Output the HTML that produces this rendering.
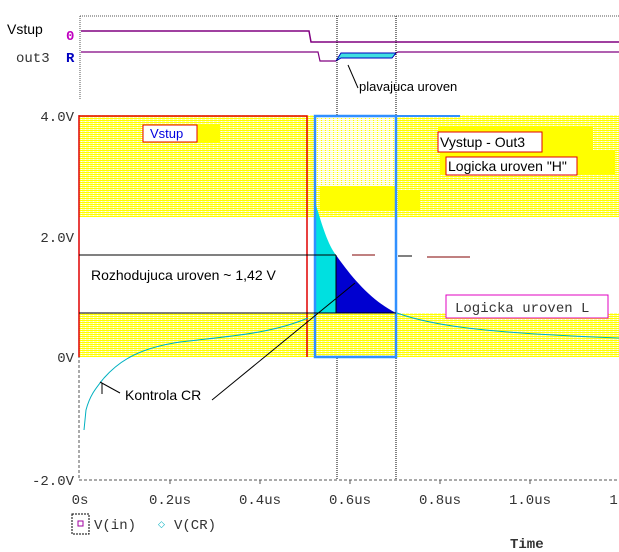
<!DOCTYPE html>
<html><head><meta charset="utf-8"><style>
html,body{margin:0;padding:0;background:#fff;}
svg{display:block;}
text{font-family:"Liberation Sans",sans-serif;}
.m, .m text, text.m{font-family:"Liberation Mono",monospace;}
</style></head><body>
<svg width="619" height="552" viewBox="0 0 619 552" xmlns="http://www.w3.org/2000/svg">
<defs>
<pattern id="hy" width="4" height="2" patternUnits="userSpaceOnUse">
<rect width="4" height="2" fill="#ffff00"/>
<rect y="1" width="4" height="1" fill="#ffffa0"/>
<rect x="1" y="1" width="1" height="1" fill="#fff"/>
</pattern>
<pattern id="hl" width="4" height="2" patternUnits="userSpaceOnUse">
<rect width="4" height="2" fill="#ffffc0"/>
<rect y="1" width="4" height="1" fill="#fff"/>
<rect x="1" y="0" width="1" height="1" fill="#ffff00"/>
</pattern>
</defs>
<!-- top digital panel -->
<line x1="80" y1="16" x2="619" y2="16" stroke="#555" stroke-dasharray="1,1"/>
<line x1="80" y1="16" x2="80" y2="100" stroke="#555" stroke-dasharray="1,1"/>
<text x="7" y="34" font-size="14">Vstup</text>
<text x="66" y="40" font-size="14" fill="#c000c0" class="m" font-weight="bold">0</text>
<text x="16" y="62" font-size="14" class="m" fill="#333">out3</text>
<text x="66" y="62" font-size="14" fill="#0000c0" class="m" font-weight="bold">R</text>
<polyline points="81,31 309,31 311,42 619,42" fill="none" stroke="#800080" stroke-width="1.5"/>
<polyline points="81,52 318,52 320,61 336,61" fill="none" stroke="#800080" stroke-width="1.2"/>
<polygon points="336,61 341,53 396,53 392,58 341,58" fill="#40e0e0" stroke="#0000c0"/>
<polyline points="396,53 398,52 619,52" fill="none" stroke="#800080" stroke-width="1.2"/>
<line x1="337" y1="16" x2="337" y2="480" stroke="#000" stroke-dasharray="1,1"/>
<line x1="396" y1="16" x2="396" y2="480" stroke="#000" stroke-dasharray="1,1"/>
<line x1="348" y1="65" x2="358" y2="88" stroke="#000"/>
<text x="359" y="91" font-size="13">plavajuca uroven</text>
<!-- main plot yellow regions -->
<rect x="79" y="115" width="540" height="102" fill="url(#hy)"/>
<rect x="79" y="313" width="540" height="44" fill="url(#hy)"/>
<rect x="315" y="116" width="81" height="70" fill="url(#hl)"/>
<rect x="315" y="217" width="81" height="140" fill="#fff"/>
<rect x="315" y="313" width="81" height="44" fill="url(#hy)"/>
<rect x="143" y="125" width="77" height="18" fill="#ffff00"/>
<rect x="438" y="126" width="155" height="24" fill="#ffff00"/>
<rect x="440" y="150" width="175" height="25" fill="#ffff00"/>
<rect x="320" y="186" width="75" height="25" fill="#ffff00"/>
<rect x="398" y="190" width="22" height="20" fill="#ffff00"/>
<!-- axis -->
<line x1="79" y1="115" x2="79" y2="480" stroke="#555" stroke-dasharray="3,2"/>
<line x1="79" y1="480" x2="619" y2="480" stroke="#555" stroke-dasharray="3,2"/>
<g font-size="14" class="m" fill="#333" text-anchor="end">
<text x="74" y="121">4.0V</text><text x="74" y="242">2.0V</text><text x="74" y="362">0V</text><text x="74" y="485">-2.0V</text>
</g>
<g font-size="14" class="m" fill="#333" text-anchor="middle">
<text x="80" y="504">0s</text><text x="170" y="504">0.2us</text><text x="260" y="504">0.4us</text>
<text x="350" y="504">0.6us</text><text x="440" y="504">0.8us</text><text x="530" y="504">1.0us</text><text x="622" y="504">1.2</text>
</g>
<g stroke="#555"><line x1="170" y1="480" x2="170" y2="484"/><line x1="260" y1="480" x2="260" y2="484"/><line x1="350" y1="480" x2="350" y2="484"/><line x1="440" y1="480" x2="440" y2="484"/><line x1="530" y1="480" x2="530" y2="484"/></g>
<!-- Vin red outline -->
<polyline points="79,357 79,116 307,116 307,357" fill="none" stroke="#e00000" stroke-width="1.5"/>
<!-- cyan/blue fills -->
<path d="M316,205 C322,225 328,245 336,255 L336,313 L316,313 Z" fill="#00e0e0"/>
<path d="M336,255 C350,275 370,300 396,313 L336,313 Z" fill="#0000d0"/>
<rect x="315" y="116" width="81" height="241" fill="none" stroke="#3090ff" stroke-width="2.5"/>
<line x1="396" y1="116" x2="460" y2="116" stroke="#3090ff" stroke-width="2"/>
<!-- black lines -->
<line x1="79" y1="255" x2="336" y2="255" stroke="#000"/>
<line x1="79" y1="313" x2="396" y2="313" stroke="#000"/>
<line x1="336" y1="255" x2="336" y2="313" stroke="#000"/>
<line x1="352" y1="255" x2="375" y2="255" stroke="#800000"/>
<line x1="398" y1="256" x2="412" y2="256" stroke="#000"/>
<line x1="427" y1="257" x2="470" y2="257" stroke="#800000"/>
<!-- CR curve -->
<path d="M84,430 L86,410 C90,395 96,388 104,378 C120,360 140,348 180,342 C230,336 270,334 308,318" fill="none" stroke="#00b0c0"/>
<path d="M397,313 C430,325 480,333 619,338" fill="none" stroke="#00b0c0"/>
<!-- annotations -->
<text x="91" y="280" font-size="14">Rozhodujuca uroven ~ 1,42 V</text>
<rect x="143" y="125" width="54" height="17" fill="#fff" stroke="#e00000"/>
<text x="150" y="138" font-size="13" fill="#0000e0">Vstup</text>
<rect x="438" y="132" width="104" height="20" fill="#fff" stroke="#e00000"/>
<text x="440" y="147" font-size="14">Vystup - Out3</text>
<rect x="446" y="157" width="131" height="18" fill="#fff" stroke="#e00000"/>
<text x="448" y="171" font-size="14">Logicka uroven "H"</text>
<rect x="446" y="295" width="162" height="23" fill="#fff" stroke="#e000c0"/>
<text x="455" y="312" font-size="14" class="m" fill="#333">Logicka uroven L</text>
<line x1="212" y1="400" x2="355" y2="283" stroke="#000"/>
<line x1="120" y1="393" x2="100" y2="382" stroke="#000"/>
<line x1="102" y1="383" x2="102" y2="394" stroke="#000"/>
<text x="125" y="400" font-size="14">Kontrola CR</text>
<!-- legend -->
<rect x="72" y="514" width="17" height="20" fill="none" stroke="#000" stroke-dasharray="2,1"/>
<rect x="78" y="521" width="5" height="5" fill="none" stroke="#a000a0"/>
<text x="94" y="529" font-size="14" class="m" fill="#333">V(in)</text>
<text x="158" y="527" font-size="9" fill="#00b0c0">◇</text>
<text x="174" y="529" font-size="14" class="m" fill="#333">V(CR)</text>
<text x="510" y="548" font-size="14" class="m" fill="#333" font-weight="bold">Time</text>
</svg>
</body></html>
